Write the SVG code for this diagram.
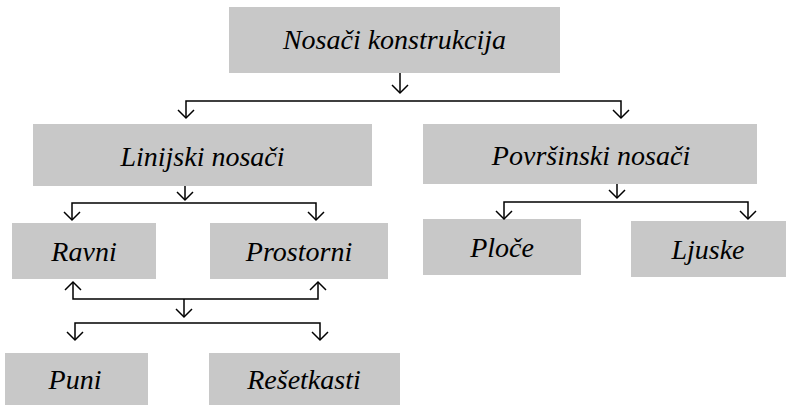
<svg xmlns="http://www.w3.org/2000/svg" width="786" height="408" viewBox="0 0 786 408">
<defs>
<style>
.box{fill:#c8c8c8;}
.lbl{font-family:"Liberation Serif","Times New Roman",serif;font-style:italic;font-size:28px;fill:#000;text-anchor:middle;}
.ln{fill:none;stroke:#000;stroke-width:1.5;}
</style>
<marker id="ah" viewBox="0 0 20 20" refX="10" refY="10" markerWidth="20" markerHeight="20" markerUnits="userSpaceOnUse" orient="auto-start-reverse">
<path d="M2,2 L10,10 L2,18" fill="none" stroke="#000" stroke-width="1.5"/>
</marker>
</defs>
<rect width="786" height="408" fill="#fff"/>
<g id="n-nosaci"><rect class="box" x="229" y="7" width="331" height="66"/><text class="lbl" x="394.5" y="49">Nosači konstrukcija</text></g>
<g id="n-linijski"><rect class="box" x="33" y="124" width="339" height="62"/><text class="lbl" x="202.5" y="166">Linijski nosači</text></g>
<g id="n-povrsinski"><rect class="box" x="423" y="124" width="334" height="60"/><text class="lbl" x="591" y="165">Površinski nosači</text></g>
<g id="n-ravni"><rect class="box" x="12" y="223" width="144" height="56"/><text class="lbl" x="84" y="261">Ravni</text></g>
<g id="n-prostorni"><rect class="box" x="210" y="223" width="178" height="56"/><text class="lbl" x="299" y="261">Prostorni</text></g>
<g id="n-ploce"><rect class="box" x="423" y="219" width="158" height="56"/><text class="lbl" x="502" y="257">Ploče</text></g>
<g id="n-ljuske"><rect class="box" x="631" y="221" width="155" height="56"/><text class="lbl" x="708" y="259">Ljuske</text></g>
<g id="n-puni"><rect class="box" x="5" y="353" width="143" height="52"/><text class="lbl" x="75" y="389">Puni</text></g>
<g id="n-resetkasti"><rect class="box" x="209" y="353" width="191" height="52"/><text class="lbl" x="304" y="389">Rešetkasti</text></g>
<g id="connectors">
<line class="ln" x1="400" y1="73" x2="400" y2="93" marker-end="url(#ah)"/>
<polyline class="ln" points="186,118 186,101 621,101 621,118" marker-start="url(#ah)" marker-end="url(#ah)"/>
<line class="ln" x1="185" y1="186" x2="185" y2="200" marker-end="url(#ah)"/>
<polyline class="ln" points="72,220 72,203 316,203 316,220" marker-start="url(#ah)" marker-end="url(#ah)"/>
<line class="ln" x1="617" y1="184" x2="617" y2="198" marker-end="url(#ah)"/>
<polyline class="ln" points="504,219 504,202 748,202 748,219" marker-start="url(#ah)" marker-end="url(#ah)"/>
<polyline class="ln" points="73,282 73,299 318,299 318,282" marker-start="url(#ah)" marker-end="url(#ah)"/>
<line class="ln" x1="184" y1="299" x2="184" y2="317" marker-end="url(#ah)"/>
<polyline class="ln" points="75,340 75,323 320,323 320,340" marker-start="url(#ah)" marker-end="url(#ah)"/>
</g>
</svg>
